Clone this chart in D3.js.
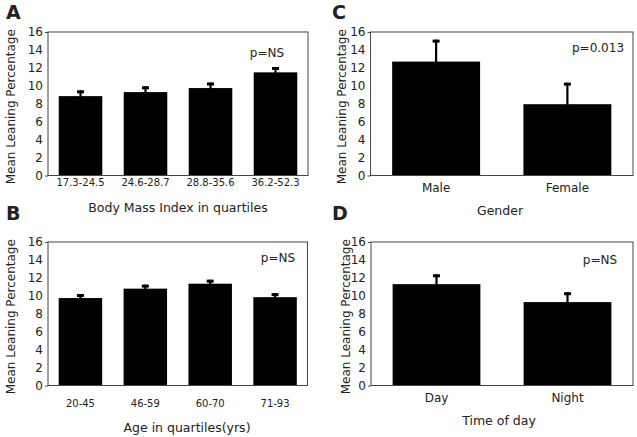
<!DOCTYPE html>
<html>
<head>
<meta charset="utf-8">
<script src="https://cdn.jsdelivr.net/npm/d3@7"></script>
<style>
  html, body { margin: 0; padding: 0; background: #fff; }
  svg { display: block; }
  text { font-family: "DejaVu Sans", sans-serif; fill: #222; }
</style>
</head>
<body>
<svg id="chart" width="637" height="437"></svg>
<script>
// ---- data ----
const yTicks = [0, 2, 4, 6, 8, 10, 12, 14, 16];

const bmiCats = ["17.3-24.5", "24.6-28.7", "28.8-35.6", "36.2-52.3"];
const bmiMeans = [8.85, 9.3, 9.75, 11.5];
const bmiErr = [0.65, 0.65, 0.62, 0.6];

const ageCats = ["20-45", "46-59", "60-70", "71-93"];
const ageMeans = [9.75, 10.8, 11.35, 9.85];
const ageErr = [0.45, 0.45, 0.45, 0.45];

const genderCats = ["Male", "Female"];
const genderMeans = [12.7, 7.95];
const genderErr = [2.45, 2.4];

const timeCats = ["Day", "Night"];
const timeMeans = [11.3, 9.3];
const timeErr = [1.1, 1.1];

const svg = d3.select("#chart");

const panels = [
  { letter: "A", cats: bmiCats, means: bmiMeans, errs: bmiErr, pText: "p=NS", xTitle: "Body Mass Index in quartiles",
    box: { l: 48, r: 308, t: 32, b: 175.5 }, letterPos: [6, 19], yTitleX: 11, tickFont: 10, tickY: 186,
    xTitleX: 178, xTitleY: 212, pPos: [267, 57], capW: 7 },
  { letter: "C", cats: genderCats, means: genderMeans, errs: genderErr, pText: "p=0.013", xTitle: "Gender",
    box: { l: 370.5, r: 633, t: 32, b: 175.5 }, letterPos: [332, 19], yTitleX: 342, tickFont: 12, tickY: 192,
    xTitleX: 500, xTitleY: 215, pPos: [598, 52], capW: 7 },
  { letter: "B", cats: ageCats, means: ageMeans, errs: ageErr, pText: "p=NS", xTitle: "Age in quartiles(yrs)",
    box: { l: 48, r: 307.5, t: 242, b: 385.5 }, letterPos: [6, 220], yTitleX: 11, tickFont: 10, tickY: 407,
    xTitleX: 187, xTitleY: 432, pPos: [278, 262], capW: 7 },
  { letter: "D", cats: timeCats, means: timeMeans, errs: timeErr, pText: "p=NS", xTitle: "Time of day",
    box: { l: 371, r: 633, t: 242, b: 385.5 }, letterPos: [332, 220], yTitleX: 346, tickFont: 12, tickY: 402,
    xTitleX: 499, xTitleY: 425, pPos: [600, 264], capW: 7 }
];

panels.forEach(p => {
  const g = svg.append("g");
  const { l, r, t, b } = p.box;
  const x = d3.scaleBand().domain(p.cats).range([l, r]).paddingInner(0.33).paddingOuter(0.165);
  const y = d3.scaleLinear().domain([0, 16]).range([b, t]);

  // y axis labels
  const yAxis = d3.axisLeft(y).tickValues(yTicks).tickSize(3).tickPadding(2).tickFormat(d3.format("d"));
  const ya = g.append("g").attr("transform", `translate(${l},0)`).call(yAxis);
  ya.select(".domain").remove();
  ya.selectAll(".tick line").attr("stroke", (d) => (d === 0 || d === 16) ? "#444" : "none");
  ya.selectAll(".tick text").attr("font-family", "DejaVu Sans").attr("font-size", 12).attr("fill", "#222");

  // x axis labels
  const xAxis = d3.axisBottom(x).tickSize(0).tickPadding(0);
  const xa = g.append("g").attr("transform", `translate(0,${p.tickY})`).call(xAxis);
  xa.select(".domain").remove();
  xa.selectAll(".tick text").attr("dy", 0).attr("font-family", "DejaVu Sans")
    .attr("font-size", p.tickFont).attr("fill", "#222");

  // bars
  g.selectAll("rect.bar").data(p.cats).enter().append("rect")
    .attr("class", "bar")
    .attr("x", d => x(d))
    .attr("width", x.bandwidth())
    .attr("y", (d, i) => y(p.means[i]))
    .attr("height", (d, i) => y(0) - y(p.means[i]))
    .attr("fill", "#000");

  // error bars (upper only)
  g.selectAll("line.err").data(p.cats).enter().append("line")
    .attr("x1", d => x(d) + x.bandwidth() / 2)
    .attr("x2", d => x(d) + x.bandwidth() / 2)
    .attr("y1", (d, i) => y(p.means[i]) + 1)
    .attr("y2", (d, i) => y(p.means[i] + p.errs[i]))
    .attr("stroke", "#000").attr("stroke-width", 2.2);
  g.selectAll("rect.cap").data(p.cats).enter().append("rect")
    .attr("x", d => x(d) + x.bandwidth() / 2 - p.capW / 2)
    .attr("width", p.capW)
    .attr("y", (d, i) => y(p.means[i] + p.errs[i]))
    .attr("height", 3)
    .attr("fill", "#000");

  // frame
  g.append("rect").attr("x", l).attr("y", t).attr("width", r - l).attr("height", b - t)
    .attr("fill", "none").attr("stroke", "#444").attr("stroke-width", 1);

  // p text
  g.append("text").attr("x", p.pPos[0]).attr("y", p.pPos[1]).attr("text-anchor", "middle")
    .attr("font-size", 12).text(p.pText);

  // y title
  g.append("text").attr("transform", `translate(${p.yTitleX + 4},${(t + b) / 2 + 3}) rotate(-90)`)
    .attr("text-anchor", "middle").attr("font-size", 12).text("Mean Leaning Percentage");

  // x title
  g.append("text").attr("x", p.xTitleX).attr("y", p.xTitleY).attr("text-anchor", "middle")
    .attr("font-size", 12.5).text(p.xTitle);

  // panel letter
  g.append("text").attr("x", p.letterPos[0]).attr("y", p.letterPos[1])
    .attr("font-family", "Liberation Sans").attr("font-weight", "bold").attr("font-size", 19)
    .attr("fill", "#000").text(p.letter);
});
</script>
</body>
</html>
